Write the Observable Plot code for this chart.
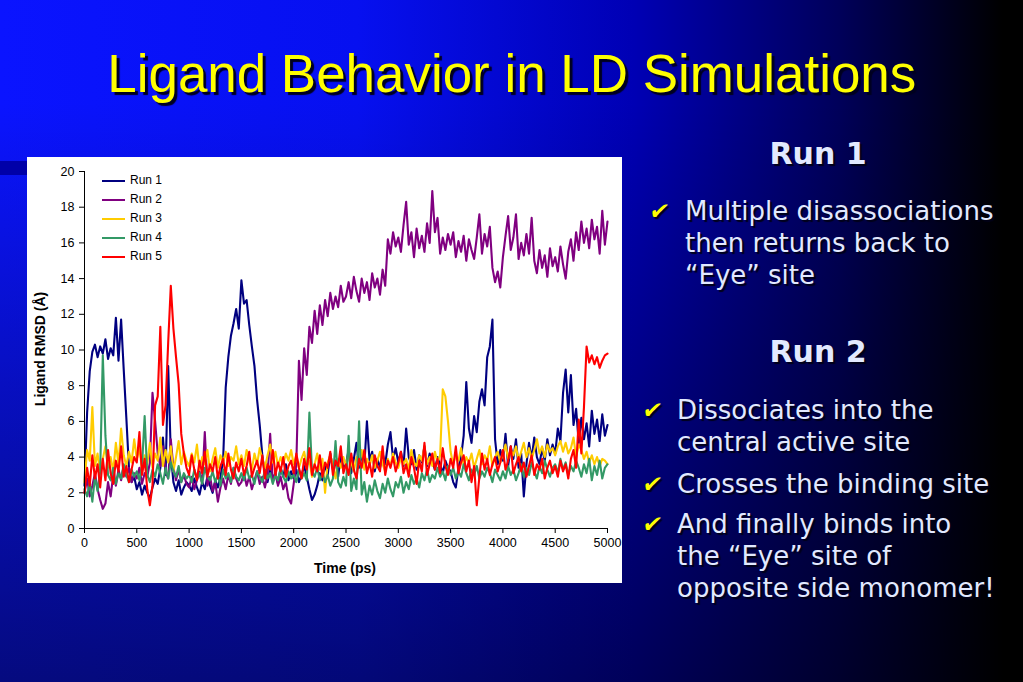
<!DOCTYPE html>
<html>
<head>
<meta charset="utf-8">
<script src="https://cdn.jsdelivr.net/npm/d3@7"></script>
<script src="https://cdn.jsdelivr.net/npm/@observablehq/plot@0.6"></script>
<style>
  html, body { margin: 0; padding: 0; }
  body {
    width: 1023px; height: 682px; overflow: hidden; position: relative;
    background:
      linear-gradient(to bottom, rgba(0,0,0,0) 15%, rgba(0,0,0,0.5) 100%),
      linear-gradient(to right, #0a14ff 0%, #0610f0 35%, #0000b4 62%, #00005a 82%, #000000 98%);
    font-family: "Liberation Sans", Arial, sans-serif;
  }
  #band { position: absolute; left: 0; top: 161px; width: 27px; height: 14px; background: #0000a8; }
  #title {
    position: absolute; left: 0; width: 1023px; top: 40px; text-align: center;
    font-family: "Liberation Sans", Arial, sans-serif; font-size: 54px; color: #ffff00;
    text-shadow: 3px 3px 1px #000020; line-height: 66px;
  }
  #title span { display: inline-block; transform: scaleX(0.98); transform-origin: 50% 50%; }
  #panel { position: absolute; left: 27px; top: 157px; width: 595px; height: 426px; background: #fff; }
  #chart { position: absolute; left: 0; top: 0; }
  .legend { position: absolute; left: 75px; font-size: 12px; line-height: 14px; color: #000; font-family: "Liberation Sans", Arial, sans-serif; }
  .legend .sw { display: inline-block; width: 23px; height: 1.5px; vertical-align: middle; margin-right: 5px; }
  .axlab { position: absolute; font-weight: bold; color: #000; font-family: "Liberation Sans", Arial, sans-serif; white-space: nowrap; }
  .side { position: absolute; color: #e2e9ff; font-family: "DejaVu Sans", Verdana, sans-serif; text-shadow: 2px 2px 1px #000018; }
  .head { font-weight: bold; font-size: 30px; text-align: center; width: 200px; }
  .bul { font-size: 26px; line-height: 32px; white-space: nowrap; }
  .chk { position: absolute; color: #ffff00; font-size: 23px; font-family: "DejaVu Sans", sans-serif; text-shadow: 2px 2px 1px #000018; transform: skewX(-10deg); }
</style>
</head>
<body>
<div id="band"></div>
<div id="title"><span>Ligand Behavior in LD Simulations</span></div>
<div id="panel"><div id="chart"></div></div>
<div id="side"></div>
<script>
// ---- data ----
const seriesNames = ["Run 1", "Run 2", "Run 3", "Run 4", "Run 5"];
const seriesColors = ["#000080", "#800080", "#ffcc00", "#339966", "#ff0000"];
const timeStep = 25; // ps
const yTicks = [0, 2, 4, 6, 8, 10, 12, 14, 16, 18, 20];
const xTicks = [0, 500, 1000, 1500, 2000, 2500, 3000, 3500, 4000, 4500, 5000];
const xLabel = "Time (ps)";
const yLabel = "Ligand RMSD (Å)";

const run1 = [
  2.4, 6.5, 8.8, 9.9, 10.3, 9.6, 10.2, 9.8, 10.6, 9.5, 10.1, 9.7, 11.8, 9.4, 11.7, 8.9, 6.2, 3.4, 2.6, 2.9,
  2.2, 2.6, 1.9, 2.4, 2.0, 1.7, 2.3, 2.8, 2.5, 3.4, 5.1, 3.0, 9.1, 4.2, 2.6, 2.1, 2.7, 1.9, 2.3, 2.6,
  2.4, 2.1, 2.8, 2.3, 1.9, 2.6, 2.2, 2.9, 2.4, 2.0, 2.7, 2.3, 2.9, 3.8, 7.9, 9.6, 10.8, 11.5, 12.3, 11.2,
  13.9, 12.6, 12.8, 11.4, 10.2, 9.1, 7.2, 5.8, 4.1, 3.0, 2.6, 3.3, 2.8, 3.1, 2.5, 3.4, 2.9, 3.6, 2.7, 3.2,
  2.8, 3.3, 2.6, 3.0, 3.5, 2.9, 2.2, 1.6, 1.9, 2.4, 3.1, 2.7, 3.6, 3.0, 4.2, 3.3, 3.8, 2.9, 4.1, 3.4,
  3.6, 4.4, 3.1, 3.9, 4.8, 3.4, 4.1, 3.5, 6.0, 3.8, 4.3, 3.2, 3.9, 3.4, 4.2, 3.6, 4.7, 5.4, 3.9, 4.5,
  3.7, 4.3, 3.5, 5.6, 4.0, 3.6, 4.4, 3.3, 4.1, 3.7, 4.6, 3.5, 4.2, 3.8, 3.3, 4.0, 3.6, 3.1, 3.8, 3.4,
  3.2, 2.6, 2.3, 3.4, 4.0, 5.2, 8.2, 5.6, 4.8, 6.3, 5.4, 7.1, 7.8, 6.9, 9.6, 10.2, 11.7, 5.0, 3.6, 4.4,
  3.8, 5.3, 3.5, 4.6, 3.9, 5.0, 3.4, 4.2, 1.8, 3.6, 4.8, 3.9, 5.1, 4.0, 3.6, 4.5, 3.8, 5.0, 4.1, 4.7,
  4.2, 5.6, 4.9, 7.6, 8.9, 6.5, 8.6, 5.8, 6.7, 4.8, 6.2, 5.0, 5.9, 4.6, 6.6, 5.3, 6.1, 4.9, 6.4, 5.2,
  5.8
];
const run2 = [
  2.0, 2.8, 1.8, 2.4, 3.1, 2.2, 1.6, 1.1, 1.4, 2.6, 1.8, 3.0, 2.4, 3.3, 2.7, 3.5, 2.9, 3.4, 2.6, 3.1,
  2.8, 3.4, 2.5, 3.1, 2.9, 3.7, 7.6, 6.0, 4.2, 3.5, 4.6, 3.2, 2.8, 5.0, 3.4, 2.7, 3.3, 2.6, 3.0, 2.5,
  2.3, 2.9, 2.2, 2.7, 3.2, 2.5, 5.4, 2.4, 2.9, 2.1, 2.6, 1.5, 2.3, 2.8, 2.2, 3.0, 2.5, 3.4, 2.8, 2.4,
  2.6, 3.1, 2.4, 2.9, 2.2, 2.7, 3.2, 2.5, 2.9, 2.3, 3.0, 5.3, 2.6, 3.1, 2.4, 2.9, 2.2, 2.6, 1.7, 1.4,
  2.5, 3.6, 9.4, 7.2, 10.1, 8.6, 11.3, 10.4, 12.2, 10.9, 12.5, 11.4, 12.8, 11.9, 13.2, 12.3, 13.0, 12.4, 13.6, 12.7,
  13.0, 13.8, 12.9, 14.1, 13.3, 12.7, 14.0, 13.2, 13.8, 12.8, 14.3, 13.5, 14.0, 13.1, 14.5, 13.6, 16.2, 15.4, 16.6, 15.8,
  16.3, 15.5, 17.0, 18.3, 15.9, 16.6, 15.2, 16.8, 15.7, 16.4, 15.5, 17.1, 16.0, 18.9, 16.6, 17.4, 15.4, 16.3, 15.6, 16.5,
  15.9, 16.6, 15.2, 16.1, 15.5, 16.4, 15.0, 16.2, 15.6, 15.1, 16.3, 17.6, 15.4, 16.5, 15.8, 16.9, 14.6, 13.8, 14.4, 13.5,
  15.2, 16.4, 17.5, 15.6, 16.3, 17.6, 15.1, 16.0, 15.3, 16.5, 15.4, 17.4, 15.0, 14.3, 15.6, 14.6, 15.3, 14.1, 15.7, 14.7,
  15.2, 14.4, 15.8, 14.8, 14.0, 15.5, 16.2, 15.0, 16.6, 15.6, 17.2, 16.0, 16.8, 15.7, 17.3, 16.2, 16.9, 15.4, 17.8, 15.9,
  17.2
];
const run3 = [
  2.6, 4.4, 3.8, 6.8, 3.5, 4.2, 3.1, 3.9, 4.6, 3.4, 4.0, 3.2, 4.8, 3.6, 5.6, 4.1, 3.5, 4.3, 3.7, 5.0,
  3.9, 4.5, 3.3, 4.1, 3.6, 4.8, 3.4, 4.2, 3.8, 5.1, 3.5, 4.4, 3.7, 4.6, 3.2, 4.0, 4.9, 3.6, 4.3, 3.8,
  3.5, 4.2, 3.7, 4.7, 3.3, 4.0, 3.6, 4.4, 3.2, 3.9, 4.5, 3.4, 4.1, 3.7, 4.3, 3.5, 4.0, 3.8, 4.6, 3.6,
  4.1, 3.5, 4.4, 3.8, 3.3, 4.2, 3.6, 4.5, 3.9, 3.4, 4.1, 4.7, 3.7, 4.3, 3.5, 4.0, 3.6, 4.2, 3.8, 4.4,
  3.6, 4.1, 3.4, 3.9, 4.3, 3.5, 3.8, 2.9, 3.6, 4.2, 3.3, 3.9, 2.0, 3.7, 4.1, 3.5, 2.8, 3.9, 3.4, 4.0,
  3.5, 4.2, 3.7, 3.2, 4.0, 3.6, 4.4, 3.3, 3.9, 3.5, 4.1, 3.4, 3.8, 4.3, 3.6, 3.2, 3.9, 3.5, 4.2, 3.7,
  3.4, 4.0, 3.6, 3.9, 3.3, 4.4, 3.7, 3.5, 4.1, 3.8, 4.6, 3.6, 4.0, 3.5, 4.3, 3.7, 4.1, 7.8, 7.4, 6.0,
  4.3, 3.6, 4.1, 3.8, 4.5, 3.5, 4.0, 3.7, 4.2, 3.4, 3.9, 4.4, 3.6, 4.1, 3.8, 4.6, 3.5, 4.0, 4.3, 3.7,
  4.2, 4.7, 3.9, 4.4, 4.1, 4.6, 3.8, 4.3, 4.8, 4.0, 4.5, 3.9, 4.4, 5.0, 4.2, 4.6, 4.0, 4.7, 4.3, 4.5,
  4.1, 4.6, 4.9, 4.3, 4.8, 4.2, 4.5, 5.1, 4.0, 4.7, 4.4, 3.9, 4.3, 3.7, 4.1, 3.6, 4.0, 3.5, 3.9, 3.8,
  3.6
];
const run4 = [
  2.2, 1.8, 2.6, 1.5, 2.9, 2.1, 3.2, 9.7, 5.2, 3.0, 2.7, 3.4, 2.5, 3.1, 2.8, 3.6, 3.0, 2.6, 3.3, 2.9,
  3.2, 2.7, 3.5, 6.3, 3.0, 2.6, 3.3, 2.9, 3.6, 3.1, 2.5, 3.4, 2.8, 3.7, 3.2, 2.9, 3.5, 2.6, 3.1, 2.8,
  3.0, 2.6, 3.3, 2.8, 3.1, 2.5, 3.4, 2.9, 2.7, 3.2, 2.6, 3.0, 2.4, 3.3, 2.8, 3.1, 2.6, 3.4, 2.9, 2.7,
  3.1, 2.7, 3.4, 2.8, 3.0, 2.5, 3.2, 2.9, 2.6, 3.3, 2.8, 3.1, 2.5, 3.0, 2.7, 3.4, 2.9, 2.6, 3.2, 2.8,
  3.0, 2.6, 3.3, 2.8, 3.1, 2.7, 6.5, 3.2, 2.9, 3.4, 2.7, 3.1, 2.6, 3.0, 2.4, 2.8, 4.9, 2.6, 2.3, 2.9,
  2.4, 5.2, 2.1, 2.8, 2.2, 6.0, 1.9, 2.6, 1.5, 2.4, 1.9, 2.7, 2.1, 1.7, 2.5, 2.0, 2.8, 2.2, 1.8, 2.6,
  2.3, 2.9, 2.0, 2.6, 2.2, 3.0, 2.5, 2.8, 2.3, 3.1, 2.7, 3.3, 2.6, 3.0, 2.8, 3.4, 2.9, 3.2, 2.7, 3.5,
  3.0, 3.4, 2.8, 3.2, 2.9, 3.6, 3.1, 2.7, 3.3, 3.0, 3.5, 2.8, 3.2, 2.9, 3.4, 3.1, 2.6, 3.3, 3.0, 2.7,
  3.2, 2.8, 3.5, 3.0, 3.3, 2.7, 3.1, 3.6, 2.9, 3.4, 3.0, 3.7, 3.2, 2.8, 3.5, 3.1, 3.8, 3.3, 2.9, 3.4,
  3.6, 3.1, 3.9, 3.3, 3.7, 3.0, 3.5, 3.2, 3.8, 3.4, 2.9, 3.6, 3.1, 3.9, 2.7, 3.5, 3.0, 3.8, 2.8, 3.4,
  3.6
];
const run5 = [
  2.0, 3.4, 2.4, 4.1, 2.8, 3.6, 2.3, 3.9, 2.7, 4.4, 3.1, 2.5, 3.8, 3.2, 4.6, 2.9, 3.5, 2.6, 3.3, 4.0,
  3.7, 5.4, 3.0, 3.9, 2.2, 1.3, 2.4, 6.9, 7.4, 11.3, 5.8, 6.9, 10.4, 13.6, 11.2, 9.6, 8.1, 5.3, 4.2, 3.4,
  3.0, 4.1, 3.3, 2.7, 3.8, 3.1, 4.3, 2.9, 3.6, 3.2, 4.0, 2.8, 3.5, 3.9, 3.0, 4.2, 3.3, 2.8, 3.7, 3.2,
  3.9, 3.0, 3.5, 4.3, 2.9, 3.4, 3.8, 3.1, 4.1, 2.8, 3.6, 3.3, 4.4, 3.0, 3.7, 3.2, 4.0, 2.9, 3.5, 3.8,
  3.1, 4.2, 3.4, 2.8, 3.9, 3.3, 4.5, 3.0, 3.6, 3.2, 4.1, 2.9, 3.7, 3.4, 4.3, 3.0, 3.8, 3.5, 4.6, 3.1,
  3.6, 3.0, 4.2, 3.3, 2.8, 3.9, 3.4, 4.4, 3.1, 3.7, 2.9, 4.1, 3.5, 3.2, 4.6, 3.0, 3.8, 3.4, 4.0, 3.2,
  3.7, 4.3, 3.1, 3.6, 2.9, 4.0, 3.4, 2.5, 3.8, 3.2, 4.8, 3.0, 3.6, 4.2, 3.3, 3.9, 3.1, 4.5, 3.5, 3.0,
  3.9, 3.4, 4.6, 3.1, 3.7, 4.1, 3.2, 3.8, 2.6, 3.5, 1.3, 2.9, 4.2, 3.3, 3.9, 3.0, 3.6, 4.0, 3.2, 3.7,
  4.4, 3.3, 3.8, 4.6, 3.1, 3.6, 4.0, 3.2, 3.7, 2.9, 3.5, 4.1, 3.0, 3.6, 3.3, 3.9, 2.8, 3.4, 3.8, 3.1,
  3.5, 2.9, 3.8, 3.2, 3.6, 2.8, 3.9, 4.4, 3.4, 6.1, 4.2, 6.8, 10.2, 9.3, 9.7, 9.2, 9.6, 9.0, 9.4, 9.7,
  9.8
];
const runs = [run1, run2, run3, run4, run5];

// ---- build table ----
const rows = runs.flatMap((vals, i) =>
  vals.map((v, j) => ({ t: j * timeStep, v, run: seriesNames[i] }))
);

const chart = Plot.plot({
  width: 595, height: 426,
  marginLeft: 57, marginRight: 15, marginTop: 14, marginBottom: 55,
  style: { background: "white", fontFamily: "Liberation Sans, Arial, sans-serif", fontSize: "12.5px", color: "#000" },
  x: { domain: [0, 5000] },
  y: { domain: [0, 20] },
  marks: [
    Plot.axisY({ ticks: yTicks, tickSize: 5, tickPadding: 5, label: null, tickFormat: d => String(d) }),
    Plot.axisX({ ticks: xTicks, tickSize: 5, tickPadding: 5, label: null, tickFormat: d => String(d) }),
    ...seriesNames.map((name, i) =>
      Plot.lineY(rows.filter(r => r.run === name), { x: "t", y: "v", stroke: seriesColors[i], strokeWidth: 2.1 })
    ),
    Plot.ruleX([0], { stroke: "#000" }),
    Plot.ruleY([0], { stroke: "#000" })
  ]
});
document.getElementById("chart").appendChild(chart);

// legend
const panel = document.getElementById("panel");
seriesNames.forEach((name, i) => {
  const d = document.createElement("div");
  d.className = "legend";
  d.style.top = (16 + i * 19) + "px";
  d.innerHTML = `<span class="sw" style="background:${seriesColors[i]}"></span>${name}`;
  panel.appendChild(d);
});
// axis titles
const xl = document.createElement("div");
xl.className = "axlab"; xl.textContent = xLabel;
xl.style.fontSize = "14px"; xl.style.left = "318px"; xl.style.top = "403px";
xl.style.transform = "translateX(-50%)";
panel.appendChild(xl);
const yl = document.createElement("div");
yl.className = "axlab"; yl.textContent = yLabel;
yl.style.fontSize = "14px"; yl.style.left = "13px"; yl.style.top = "192px";
yl.style.transform = "translate(-50%,-50%) rotate(-90deg)";
panel.appendChild(yl);

// side text
const side = document.getElementById("side");
const sideItems = [
  { kind: "head", text: "Run 1", x: 718, y: 136 },
  { kind: "chk", x: 650, y: 198 },
  { kind: "bul", text: "Multiple disassociations<br>then returns back to<br>“Eye” site", x: 685, y: 195 },
  { kind: "head", text: "Run 2", x: 718, y: 334 },
  { kind: "chk", x: 643, y: 397 },
  { kind: "bul", text: "Dissociates into the<br>central active site", x: 677, y: 394 },
  { kind: "chk", x: 643, y: 471 },
  { kind: "bul", text: "Crosses the binding site", x: 677, y: 468 },
  { kind: "chk", x: 643, y: 511 },
  { kind: "bul", text: "And finally binds into<br>the “Eye” site of<br>opposite side monomer!", x: 677, y: 508 }
];
sideItems.forEach(it => {
  const d = document.createElement("div");
  if (it.kind === "chk") { d.className = "chk"; d.textContent = "✔"; }
  else { d.className = "side " + it.kind; d.innerHTML = it.text; }
  d.style.left = it.x + "px"; d.style.top = it.y + "px";
  side.appendChild(d);
});
</script>
</body>
</html>
